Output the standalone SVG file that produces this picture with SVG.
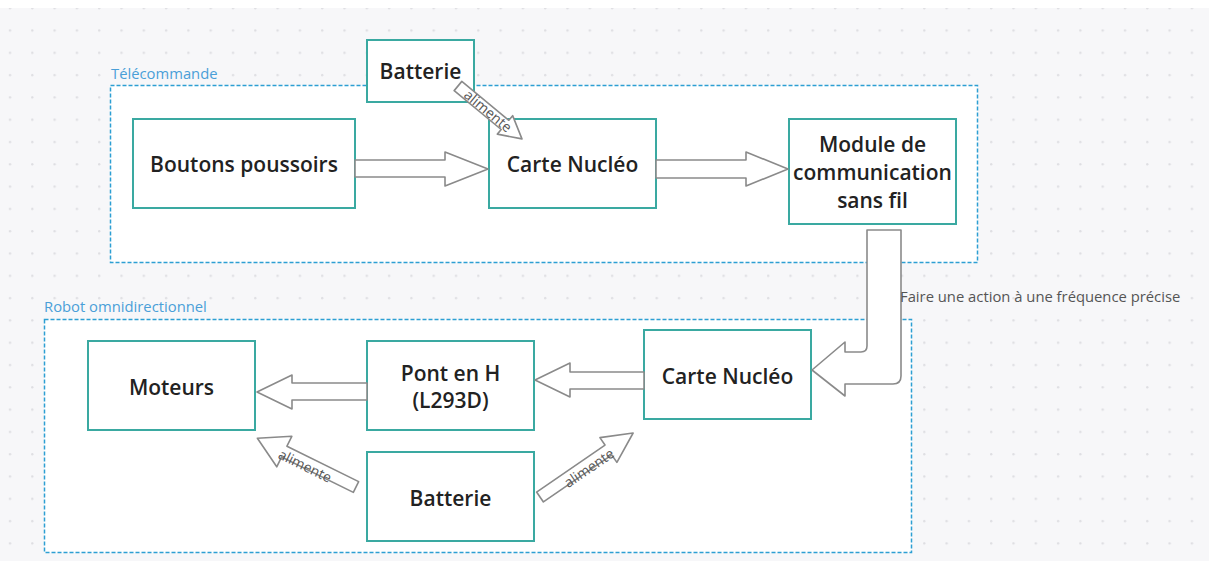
<svg xmlns="http://www.w3.org/2000/svg" width="1209" height="561" viewBox="0 0 1209 561">
<defs>
<pattern id="dots" x="8.8" y="7" width="22.3" height="22.3" patternUnits="userSpaceOnUse">
<circle cx="1.2" cy="1.2" r="1.2" fill="#dedee2"/>
</pattern>
<style>
.grp{fill:#ffffff;stroke:#2d9fd3;stroke-width:1.5;stroke-dasharray:4 2}
.glbl{font-family:"Open Sans","Noto Sans",sans-serif;font-size:14.8px;fill:#4a9fd8}
.node rect{fill:#ffffff;stroke:#3aa9a1;stroke-width:2}
.node text{font-family:"Open Sans","Noto Sans",sans-serif;font-size:21px;font-weight:600;fill:#222222;text-anchor:middle}
.arr{fill:#ffffff;stroke:#8a8a8a;stroke-width:1.6;stroke-linejoin:round}
.albl{font-family:"Open Sans","Noto Sans",sans-serif;font-size:14px;fill:#555555;text-anchor:middle}
.elbl{font-family:"Open Sans","Noto Sans",sans-serif;font-size:14.8px;fill:#555555}
</style>
</defs>
<rect x="0" y="0" width="1209" height="561" fill="#ffffff"/>
<rect x="0" y="8" width="1209" height="553" fill="#f7f7f9"/>
<rect x="0" y="8" width="1209" height="553" fill="url(#dots)"/>

<g id="group-telecommande">
<rect class="grp" x="110.5" y="85.5" width="867" height="177"/>
<text class="glbl" x="111" y="79">Télécommande</text>
</g>
<g id="group-robot">
<rect class="grp" x="44.5" y="319.5" width="867" height="233"/>
<text class="glbl" x="44" y="312">Robot omnidirectionnel</text>
</g>

<g id="node-batterie-tele" class="node">
<rect x="367" y="40" width="107" height="62"/>
<text x="420.5" y="79">Batterie</text>
</g>
<g id="node-boutons" class="node">
<rect x="133" y="119" width="222" height="89"/>
<text x="244" y="172">Boutons poussoirs</text>
</g>
<g id="node-nucleo-tele" class="node">
<rect x="489" y="119" width="167" height="89"/>
<text x="572.5" y="172">Carte Nucléo</text>
</g>
<g id="node-module" class="node">
<rect x="789" y="119" width="167" height="105"/>
<text x="872.5" y="152">Module de</text>
<text x="872.5" y="180">communication</text>
<text x="872.5" y="208">sans fil</text>
</g>
<g id="node-moteurs" class="node">
<rect x="88" y="341" width="167" height="89"/>
<text x="171.5" y="395">Moteurs</text>
</g>
<g id="node-pont" class="node">
<rect x="367" y="341" width="167" height="89"/>
<text x="450.5" y="381">Pont en H</text>
<text x="450.5" y="408">(L293D)</text>
</g>
<g id="node-nucleo-robot" class="node">
<rect x="644" y="330" width="167" height="89"/>
<text x="727.5" y="384">Carte Nucléo</text>
</g>
<g id="node-batterie-robot" class="node">
<rect x="367" y="452" width="167" height="89"/>
<text x="450.5" y="506">Batterie</text>
</g>

<g id="connectors">
<polygon class="arr" points="355,160 445,160 445,152 488,169 445,186 445,177 355,177"/>
<polygon class="arr" points="656,160 746,160 746,152 788,169 746,186 746,178 656,178"/>
<polygon class="arr" points="367,383 292,383 292,375 257,392 292,409 292,400 367,400"/>
<polygon class="arr" points="644,372 570,372 570,363 535,380 570,397 570,389 644,389"/>
<path class="arr" d="M867,230 L901,230 L901,376 Q901,384 893,384 L845,384 L845,396 L812,370 L845,342 L845,352 L861,352 Q867,352 867,346 Z"/>
<text class="elbl" x="900" y="302">Faire une action à une fréquence précise</text>

<g transform="translate(458,86) rotate(39.6)">
<polygon class="arr" points="0,-6 61,-6 61,-12 83,0 61,12 61,6 0,6"/>
</g>
<text class="albl" transform="translate(488,111) rotate(39.6)" dy="0.35em">alimente</text>

<g transform="translate(356,487) rotate(206.3)">
<polygon class="arr" points="0,-6 80,-6 80,-17 110,0 80,17 80,6 0,6"/>
</g>
<text class="albl" transform="translate(305,466) rotate(26.3)" dy="0.35em">alimente</text>

<g transform="translate(540,497) rotate(-34.5)">
<polygon class="arr" points="0,-6 83,-6 83,-15 113,0 83,15 83,6 0,6"/>
</g>
<text class="albl" transform="translate(589,468) rotate(-34.5)" dy="0.35em">alimente</text>
</g>
</svg>
